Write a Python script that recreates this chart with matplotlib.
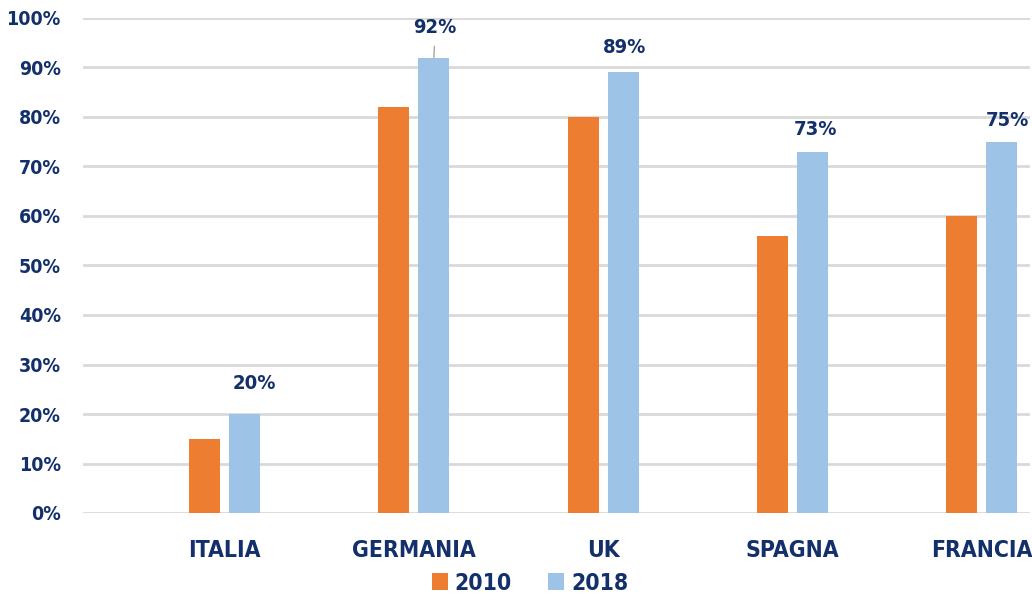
import matplotlib
matplotlib.use("Agg")
import matplotlib.pyplot as plt
import numpy as np

# data
paesi = ["ITALIA", "GERMANIA", "UK", "SPAGNA", "FRANCIA"]
v2010 = [15, 82, 80, 56, 60]
v2018 = [20, 92, 89, 73, 75]
serie = ["2010", "2018"]
yticks = [0, 10, 20, 30, 40, 50, 60, 70, 80, 90, 100]

NAVY = "#13306B"
ORANGE = "#ED7D31"
BLUE = "#9DC3E6"
GRID = "#D9D9D9"

plt.rcParams["font.family"] = ["DejaVu Sans"]
plt.rcParams["font.stretch"] = "condensed"
plt.rcParams["font.weight"] = "bold"

W, H = 1032, 595
fig = plt.figure(figsize=(W / 100, H / 100), dpi=100)
ax = fig.add_axes([83 / W, (H - 513) / H, (1030 - 83) / W, (513 - 18) / H])

x = np.arange(len(paesi))
w = 0.164
off = 0.106
ax.bar(x - off, v2010, w, color=ORANGE, zorder=3, label=serie[0])
ax.bar(x + off, v2018, w, color=BLUE, zorder=3, label=serie[1])

ax.set_xlim(-0.7475, 4.255)
ax.set_ylim(0, 100)
ax.set_yticks(yticks)
ax.set_yticklabels([f"{t}%" for t in yticks])
ax.set_xticks(x)
ax.set_xticklabels(paesi)
ax.yaxis.grid(True, color=GRID, linewidth=2, zorder=0)
ax.set_axisbelow(True)
for s in ax.spines.values():
    s.set_visible(False)
ax.tick_params(axis="y", length=0, pad=16, labelsize=14, labelcolor=NAVY)
ax.tick_params(axis="x", length=0, pad=19, labelsize=16.5, labelcolor=NAVY)

# data labels on the 2018 series (offsets in points, as placed in the source)
lab_dx = [7, 0, 1, 2, 4]
lab_dy = [22, 22, 18, 16, 15]
for i, v in enumerate(v2018):
    if paesi[i] == "GERMANIA":
        ax.annotate(f"{v}%", xy=(x[i] + off, v), xytext=(1, 22),
                    textcoords="offset points", ha="center", va="center",
                    fontsize=14.5, color=NAVY, zorder=5,
                    arrowprops=dict(arrowstyle="-", color="#A6A6A6",
                                    lw=1, shrinkA=5, shrinkB=0))
    else:
        ax.annotate(f"{v}%", xy=(x[i] + off, v), xytext=(lab_dx[i], lab_dy[i]),
                    textcoords="offset points", ha="center", va="center",
                    fontsize=14.5, color=NAVY, zorder=5)

leg = ax.legend(loc="center", bbox_to_anchor=(530 / W, 1 - 583 / H),
                bbox_transform=fig.transFigure, ncol=2, frameon=False,
                fontsize=16.5, handlelength=0.7, handleheight=0.7,
                handletextpad=0.3, columnspacing=1.6)
for t in leg.get_texts():
    t.set_color(NAVY)

fig.savefig("out.png", dpi=100)
